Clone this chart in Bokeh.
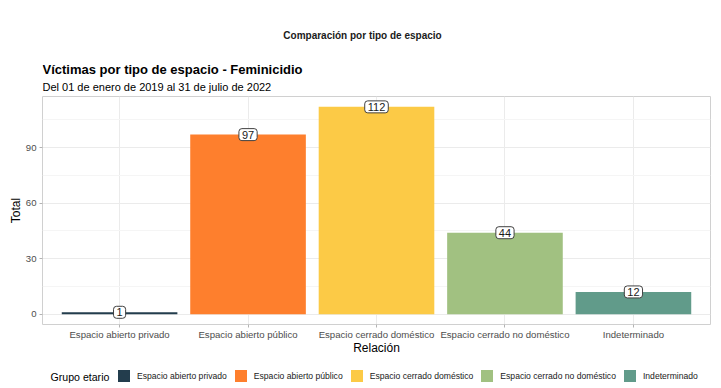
from bokeh.plotting import figure
from bokeh.layouts import column
from bokeh.models import (ColumnDataSource, FactorRange, Range1d, FixedTicker,
                          Legend, LegendItem, Label)
from bokeh.embed import file_html
from bokeh.resources import INLINE
from bokeh.core.properties import value

categories = ["Espacio abierto privado", "Espacio abierto público",
              "Espacio cerrado doméstico", "Espacio cerrado no doméstico",
              "Indeterminado"]
totals = [1, 97, 112, 44, 12]
colors = ["#233D4D", "#FE7F2D", "#FCCA46", "#A1C181", "#619B8A"]
y_ticks = [0, 30, 60, 90]
y_minor = [15, 45, 75, 105]

FONT = "Liberation Sans"
W = 721

src = ColumnDataSource(dict(cat=categories, total=totals, color=colors,
                            label=[str(v) for v in totals]))

# ---- title strip ----
top = figure(width=W, height=94, output_backend="svg", toolbar_location=None,
             x_axis_type=None, y_axis_type=None,
             min_border_left=42, min_border_right=11,
             min_border_top=0, min_border_bottom=0)
top.title.visible = False
top.outline_line_color = None
top.add_layout(Label(x=320, y=59, x_units="screen", y_units="screen",
                     text="Comparación por tipo de espacio", text_font=FONT,
                     text_font_size="10px", text_font_style="bold",
                     text_color="#1a1a1a", text_align="center",
                     text_baseline="middle"))
top.add_layout(Label(x=0, y=25, x_units="screen", y_units="screen",
                     text="Víctimas por tipo de espacio - Feminicidio",
                     text_font=FONT, text_font_size="13px",
                     text_font_style="bold", text_color="#000000",
                     text_align="left", text_baseline="middle"))
top.add_layout(Label(x=0, y=8, x_units="screen", y_units="screen",
                     text="Del 01 de enero de 2019 al 31 de julio de 2022",
                     text_font=FONT, text_font_size="11px",
                     text_color="#000000", text_align="left",
                     text_baseline="middle"))

# ---- main chart ----
p = figure(width=W, height=264,
           x_range=FactorRange(factors=categories, range_padding=0.1,
                               range_padding_units="absolute"),
           y_range=Range1d(-5.6, 117.6),
           output_backend="svg", toolbar_location=None,
           min_border_left=42, min_border_right=11,
           min_border_top=2, min_border_bottom=34)
p.title.visible = False

r = p.vbar(x="cat", top="total", width=0.9, fill_color="color",
           line_color=None, source=src)

p.text(x="cat", y="total", text="label", source=src,
       text_align="center", text_baseline="middle",
       text_font=value(FONT), text_font_size="11px", text_color="#1a1a1a",
       background_fill_color="white", border_line_color="#404040",
       border_line_width=1, padding=(3, 2), border_radius=3)

p.yaxis.ticker = FixedTicker(ticks=y_ticks, minor_ticks=y_minor)
for ax in (p.xaxis, p.yaxis):
    ax.axis_line_color = None
    ax.major_tick_line_color = "#B3B3B3"
    ax.major_tick_out = 3
    ax.major_tick_in = 0
    ax.minor_tick_line_color = None
    ax.major_label_text_font = FONT
    ax.major_label_text_font_size = "9.6px"
    ax.major_label_text_color = "#4D4D4D"
    ax.axis_label_text_font = FONT
    ax.axis_label_text_font_size = "12px"
    ax.axis_label_text_font_style = "normal"
    ax.axis_label_text_color = "#000000"
p.xaxis.axis_label = "Relación"
p.yaxis.axis_label = "Total"
p.xaxis.major_label_standoff = 1
p.yaxis.major_label_standoff = 2
p.xaxis.axis_label_standoff = -2
p.yaxis.axis_label_standoff = 0

p.xgrid.grid_line_color = "#EBEBEB"
p.ygrid.grid_line_color = "#EBEBEB"
p.ygrid.minor_grid_line_color = "#F5F5F5"
p.outline_line_color = "#D0D0D0"
p.background_fill_color = "white"
p.border_fill_color = "white"

# ---- legend strip ----
leg = figure(width=W, height=30,
             x_range=FactorRange(factors=categories), y_range=Range1d(1000, 1001),
             output_backend="svg", toolbar_location=None,
             x_axis_type=None, y_axis_type=None,
             min_border_left=42, min_border_right=11,
             min_border_top=0, min_border_bottom=0)
leg.title.visible = False
leg.outline_line_color = None
leg_r = leg.vbar(x="cat", top="total", bottom="total", width=0,
                 fill_color="color", line_color=None, source=src)
legend = Legend(items=[LegendItem(label=c, renderers=[leg_r], index=i)
                       for i, c in enumerate(categories)],
                orientation="horizontal", location=(74, 5),
                label_text_font=FONT, label_text_font_size="8.6px",
                label_text_color="#1a1a1a",
                glyph_width=15, glyph_height=15, label_height=15,
                label_standoff=6, spacing=6, padding=0, margin=0,
                border_line_color=None, background_fill_alpha=0)
leg.add_layout(legend)
leg.add_layout(Label(x=8, y=12, x_units="screen", y_units="screen",
                     text="Grupo etario", text_font=FONT,
                     text_font_size="10.6px", text_color="#000000",
                     text_baseline="middle", text_align="left"))

layout = column(top, p, leg, spacing=0)
open("out.html", "w").write(file_html(layout, INLINE))
